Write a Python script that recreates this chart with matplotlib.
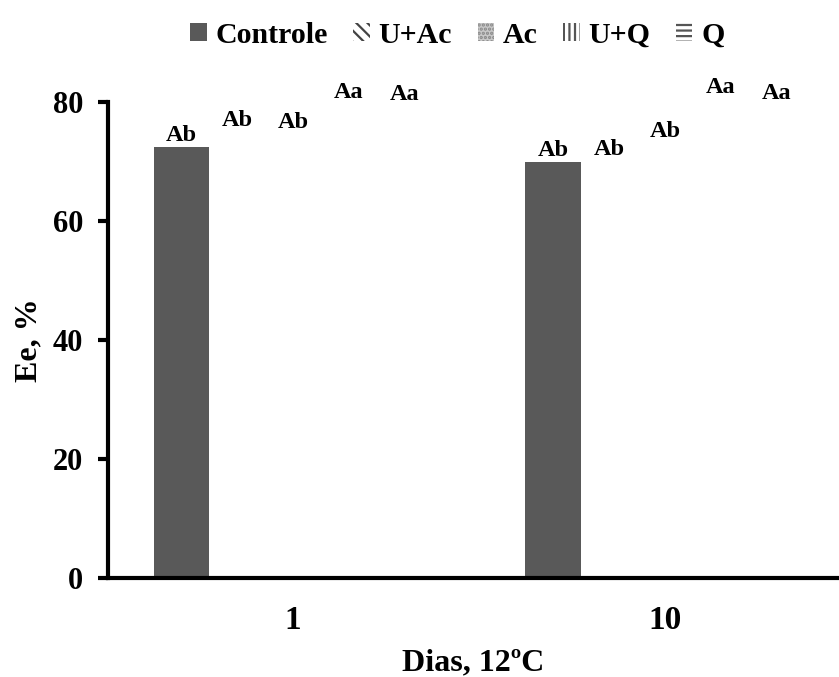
import numpy as np
import matplotlib
matplotlib.use("Agg")
import matplotlib.pyplot as plt
from matplotlib.patches import Patch

plt.rcParams["font.family"] = ["Liberation Serif", "DejaVu Serif"]
plt.rcParams["font.weight"] = "bold"
plt.rcParams["hatch.linewidth"] = 1.6

# data
days = ["1", "10"]
series = ["Controle", "U+Ac", "Ac", "U+Q", "Q"]
controle = [72.4, 69.9]
u_ac = [75.0, 70.1]
ac = [74.6, 73.1]
u_q = [79.7, 80.5]
q = [79.3, 79.5]
letters_controle = ["Ab", "Ab"]
letters_u_ac = ["Ab", "Ab"]
letters_ac = ["Ab", "Ab"]
letters_u_q = ["Aa", "Aa"]
letters_q = ["Aa", "Aa"]

values = [controle, u_ac, ac, u_q, q]
letters = [letters_controle, letters_u_ac, letters_ac, letters_u_q, letters_q]

fig = plt.figure(figsize=(8.39, 6.77), dpi=100)
ax = fig.add_axes([0.129, 0.146, 0.871, 0.703])

x = np.arange(len(days))
w = 0.15
for i, (vals, labs) in enumerate(zip(values, letters)):
    xs = x + (i - 2) * w
    fc = "#595959" if i == 0 else "white"
    bars = ax.bar(xs, vals, width=w, color=fc, edgecolor="none", zorder=2)
    for b, lab in zip(bars, labs):
        ax.annotate(lab, (b.get_x() + b.get_width() / 2, b.get_height()),
                    xytext=(0, 1), textcoords="offset points",
                    ha="center", va="bottom", fontsize=17.5, fontweight="bold",
                    annotation_clip=False)

ax.set_ylim(0, 80)
ax.set_xlim(-0.497, 1.468)
ax.set_yticks([0, 20, 40, 60, 80])
ax.set_xticks(x)
ax.set_xticklabels(days)
ax.tick_params(axis="y", labelsize=22, width=3, length=7, pad=11)
ax.tick_params(axis="x", labelsize=24, length=0, pad=19)
for s in ("top", "right"):
    ax.spines[s].set_visible(False)
for s in ("left", "bottom"):
    ax.spines[s].set_linewidth(3)

ax.set_ylabel("Ee, %", fontsize=23, fontweight="bold", labelpad=7)
ax.set_xlabel("Dias, 12ºC", fontsize=23, fontweight="bold", labelpad=9)

handles = [
    Patch(facecolor="#595959", edgecolor="none"),
    Patch(facecolor="white", edgecolor="#444444", hatch="\\\\\\", linewidth=0),
    Patch(facecolor="#c8c8c8", edgecolor="#888888", hatch="....", linewidth=0),
    Patch(facecolor="white", edgecolor="#555555", hatch="|||", linewidth=0),
    Patch(facecolor="white", edgecolor="#555555", hatch="---", linewidth=0),
]
fig.legend(handles, series, loc="center", bbox_to_anchor=(0.545, 0.948),
           ncol=5, frameon=False, fontsize=21.5, handlelength=0.55,
           handleheight=0.55, handletextpad=0.3, columnspacing=0.85)

fig.savefig("out.png", dpi=100)
